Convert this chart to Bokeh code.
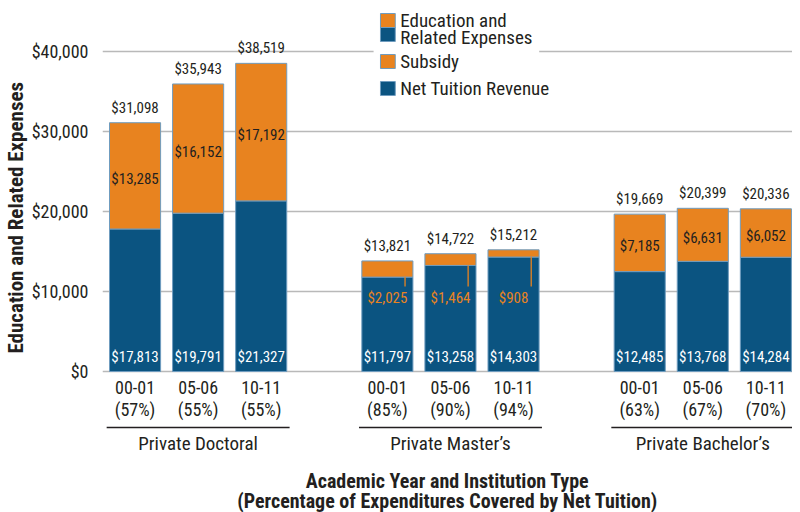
from bokeh.plotting import figure
from bokeh.models import Range1d, FixedTicker, ColumnDataSource, Title
from bokeh.core.properties import value
from bokeh.embed import file_html
from bokeh.resources import INLINE

# ---------------- data ----------------
groups = ["Private Doctoral", "Private Master\u2019s", "Private Bachelor\u2019s"]
years = ["00-01", "05-06", "10-11"]
pct_covered = ["(57%)", "(55%)", "(55%)",
               "(85%)", "(90%)", "(94%)",
               "(63%)", "(67%)", "(70%)"]
net_tuition = [17813, 19791, 21327, 11797, 13258, 14303, 12485, 13768, 14284]
subsidy = [13285, 16152, 17192, 2025, 1464, 908, 7185, 6631, 6052]
total_expenses = [31098, 35943, 38519, 13821, 14722, 15212, 19669, 20399, 20336]
y_ticks = [0, 10000, 20000, 30000, 40000]
y_tick_labels = ["$0", "$10,000", "$20,000", "$30,000", "$40,000"]
legend_labels = ["Education and\nRelated Expenses", "Subsidy", "Net Tuition Revenue"]
x_title = ["Academic Year and Institution Type",
           "(Percentage of Expenditures Covered by Net Tuition)"]
y_title = "Education and Related Expenses"

# ---------------- style ----------------
FONT = "'Roboto Condensed', 'Liberation Sans Narrow', 'Arial Narrow', Roboto, sans-serif"
BLUE = "#0b5481"
ORANGE = "#e8831f"
EDGE = "#6f9cbf"
TXT = "#231f20"
GRID = "#b9b9b9"
PX = 125.0  # data units per screen pixel on the y axis
H = 512

def money(v):
    return "${:,}".format(v)

def sy(py):
    # screen row (from top of picture) -> data value
    return (371 - py) * PX

def sx(px):
    # screen column -> bar-slot coordinate
    return (px - 133) / 64.0

# positions: three bars per group, one empty slot between groups
xs = [g * 4 + i for g in range(len(groups)) for i in range(len(years))]
year_lbl = [years[i % 3] for i in range(len(xs))]

src = ColumnDataSource(dict(
    x=xs, net=net_tuition, sub=subsidy, tot=total_expenses,
    tot_lbl=[money(v) for v in total_expenses],
    net_lbl=[money(v) for v in net_tuition],
    year=year_lbl, pct=pct_covered,
))

p = figure(width=792, height=H,
           x_range=Range1d(-0.516, 10.422),
           y_range=Range1d(sy(H), sy(0)),
           output_backend="svg", toolbar_location=None,
           x_axis_location=None,
           min_border_left=92, min_border_right=0,
           min_border_top=0, min_border_bottom=0)
p.outline_line_color = None
p.xgrid.grid_line_color = None
p.ygrid.ticker = FixedTicker(ticks=y_ticks)
p.ygrid.grid_line_color = GRID
p.ygrid.grid_line_width = 1.6

ax = p.yaxis[0]
ax.ticker = FixedTicker(ticks=y_ticks)
ax.major_label_overrides = {t: l for t, l in zip(y_ticks, y_tick_labels)}
ax.axis_line_color = None
ax.major_tick_line_color = None
ax.minor_tick_line_color = None
ax.major_label_text_font = FONT
ax.major_label_text_font_size = "18px"
ax.major_label_text_color = TXT
ax.major_label_standoff = 8

# y axis title in the left panel, shifted up to sit beside the 0..40,000 span
p.add_layout(Title(text=y_title, align="left", offset=151 + (H - 504),
                   text_font=FONT, text_font_style="bold",
                   text_font_size="21px", text_color=TXT, standoff=2), "left")

# bars
p.vbar_stack(["net", "sub"], x="x", width=0.81, source=src,
             fill_color=[BLUE, ORANGE], line_color=EDGE, line_width=1)

VAL_SIZE = "15px"
# totals above bars
p.text(x="x", y="tot", text="tot_lbl", source=src, text_align="center",
       text_baseline="bottom", y_offset=-6, text_font=value(FONT),
       text_font_size=VAL_SIZE, text_color=TXT)
# net tuition inside bottom
p.text(x="x", y=0, text="net_lbl", source=src, text_align="center",
       text_baseline="bottom", y_offset=-6, text_font=value(FONT),
       text_font_size=VAL_SIZE, text_color="white")

# subsidy labels
big = [i for i, s in enumerate(subsidy) if s >= 3000]
small = [i for i, s in enumerate(subsidy) if s < 3000]
p.text(x=[xs[i] for i in big],
       y=[net_tuition[i] + subsidy[i] / 2 for i in big],
       text=[money(subsidy[i]) for i in big], text_align="center",
       text_baseline="middle", y_offset=3, text_font=value(FONT),
       text_font_size=VAL_SIZE, text_color=TXT)
leader_end = sy(286)
p.segment(x0=[xs[i] + 0.28 for i in small], x1=[xs[i] + 0.28 for i in small],
          y0=[net_tuition[i] for i in small], y1=[leader_end] * len(small),
          line_color=ORANGE, line_width=1.3)
p.text(x=[xs[i] for i in small], y=[leader_end] * len(small),
       text=[money(subsidy[i]) for i in small], text_align="center",
       text_baseline="top", y_offset=2, text_font=value(FONT),
       text_font_size=VAL_SIZE, text_color=ORANGE)

# x tick labels
p.text(x="x", y=0, text="year", source=src, text_align="center",
       text_baseline="middle", y_offset=16, text_font=value(FONT),
       text_font_size="18px", text_color=TXT)
p.text(x="x", y=0, text="pct", source=src, text_align="center",
       text_baseline="middle", y_offset=38, text_font=value(FONT),
       text_font_size="18px", text_color=TXT)

# group underline + names
g_first = [xs[g * 3] for g in range(len(groups))]
g_last = [xs[g * 3 + 2] for g in range(len(groups))]
g_mid = [(a + b) / 2 for a, b in zip(g_first, g_last)]
line_y = sy(427)
p.segment(x0=[a - 0.45 for a in g_first], x1=[b + 0.45 for b in g_last],
          y0=[line_y] * 3, y1=[line_y] * 3, line_color=TXT, line_width=1.3)
p.text(x=g_mid, y=[line_y] * 3, text=groups, text_align="center",
       text_baseline="middle", y_offset=16, text_font=value(FONT),
       text_font_size="19px", text_color=TXT)

# x axis title
mid_x = (p.x_range.start + p.x_range.end) / 2
p.text(x=[mid_x, mid_x], y=[0, 0], text=x_title, text_align="center",
       text_baseline="middle", y_offset=[109, 129], text_font=value(FONT),
       text_font_size="20px", text_font_style="bold", text_color=TXT)

# legend (manual, to reproduce the split swatch)
p.quad(left=sx(375), right=sx(543), bottom=sy(100), top=sy(0),
       fill_color="white", line_color=None)
sw_l, sw_r = sx(382), sx(397)
p.quad(left=[sw_l] * 4, right=[sw_r] * 4,
       top=[sy(13), sy(27), sy(54), sy(81)],
       bottom=[sy(27), sy(41), sy(68), sy(95)],
       fill_color=[ORANGE, BLUE, ORANGE, BLUE], line_color=EDGE, line_width=1)
leg_lines = legend_labels[0].split("\n")
p.text(x=[sx(402)] * 4, y=[sy(20), sy(37), sy(61), sy(88)],
       text=[leg_lines[0], leg_lines[1], legend_labels[1], legend_labels[2]],
       text_align="left", text_baseline="middle", text_font=value(FONT),
       text_font_size="19px", text_color=TXT)

open("out.html", "w").write(file_html(p, INLINE))
